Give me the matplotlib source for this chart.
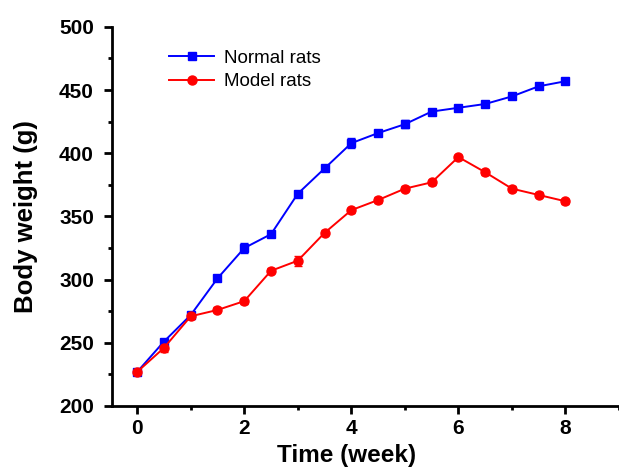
import numpy as np
import matplotlib.pyplot as plt
from matplotlib.ticker import MultipleLocator

plt.rcParams['font.family'] = ['Liberation Sans', 'DejaVu Sans']

weeks = [0, 0.5, 1, 1.5, 2, 2.5, 3, 3.5, 4, 4.5, 5, 5.5, 6, 6.5, 7, 7.5, 8]
normal = [227, 251, 272, 301, 325, 336, 368, 388, 408, 416, 423, 433, 436, 439, 445, 453, 457]
normal_err = [2, 2, 2, 2, 4, 2, 2, 2, 4, 2, 3, 2, 2, 2, 2, 2, 2]
model = [227, 246, 271, 276, 283, 307, 315, 337, 355, 363, 372, 377, 397, 385, 372, 367, 362]
model_err = [2, 3, 2, 2, 2, 2, 4, 2, 2, 2, 2, 2, 2, 2, 2, 2, 2]

fig = plt.figure(figsize=(6.19, 4.68), dpi=100)
ax = fig.add_axes([0.181, 0.1325, 0.819, 0.8100])

e1 = ax.errorbar(weeks, normal, yerr=normal_err, color='#0000ff', marker='s', ms=6,
                 lw=1.4, capsize=3, elinewidth=1)
e2 = ax.errorbar(weeks, model, yerr=model_err, color='#ff0000', marker='o', ms=6.5,
                 lw=1.4, capsize=3, elinewidth=1)

ax.set_xlim(-0.47, 9)
ax.set_ylim(200, 500)
ax.xaxis.set_major_locator(MultipleLocator(2))
ax.xaxis.set_minor_locator(MultipleLocator(1))
ax.yaxis.set_major_locator(MultipleLocator(50))
ax.yaxis.set_minor_locator(MultipleLocator(25))

for s in ['top', 'right']:
    ax.spines[s].set_visible(False)
for s in ['left', 'bottom']:
    ax.spines[s].set_linewidth(2)

ax.tick_params(which='major', direction='out', length=6, width=2, labelsize=15)
ax.tick_params(which='minor', direction='out', length=3, width=2)
ax.tick_params(axis='y', which='major', pad=7)
for lab in ax.get_xticklabels() + ax.get_yticklabels():
    lab.set_fontweight('bold')

ax.set_xlabel('Time (week)', fontsize=17.5, fontweight='bold')
ax.set_ylabel('Body weight (g)', fontsize=18.5, fontweight='bold')
ax.xaxis.set_label_coords(0.4635, -0.1)
ax.yaxis.set_label_coords(-0.146, 0.5)

ax.legend([e1[0], e2[0]], ['Normal rats', 'Model rats'], loc='upper left',
          bbox_to_anchor=(0.08, 0.985), frameon=False, fontsize=13.5,
          handlelength=2.4, handletextpad=0.5, labelspacing=0.35)

fig.savefig('out.png', dpi=100)
